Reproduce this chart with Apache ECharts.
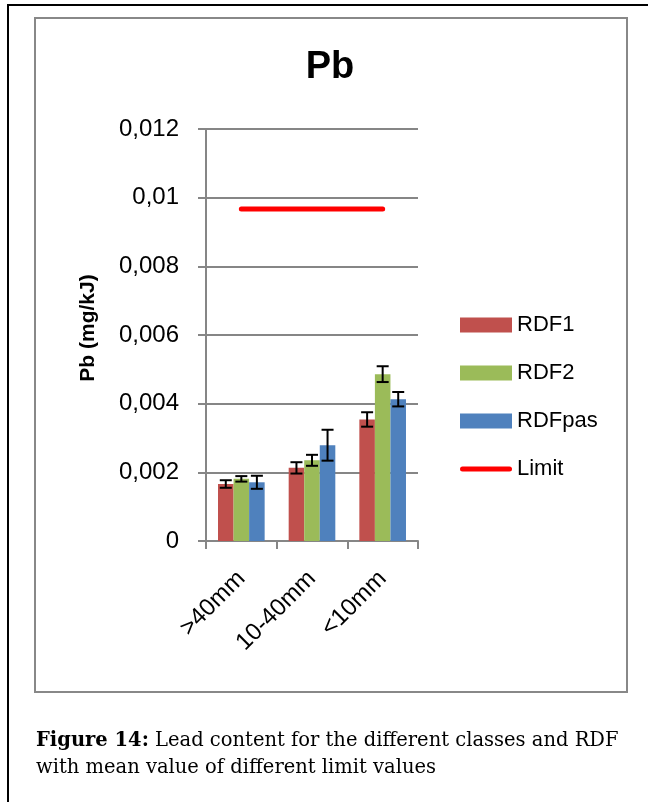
<!DOCTYPE html>
<html>
<head>
<meta charset="utf-8">
<script src="https://cdn.jsdelivr.net/npm/echarts@6/dist/echarts.min.js"></script>
<style>
html,body{margin:0;padding:0;background:#fff;}
#c{width:648px;height:802px;}
</style>
</head>
<body>
<div id="c"></div>
<script>
var categories = ['>40mm', '10-40mm', '<10mm'];
var rdf1 = [0.00166, 0.00213, 0.00354];
var rdf2 = [0.00181, 0.00235, 0.00486];
var rdfpas = [0.00171, 0.00279, 0.00413];
var err1 = [0.00011, 0.000165, 0.00021];
var err2 = [0.00008, 0.00016, 0.00023];
var errpas = [0.00019, 0.00045, 0.00021];
var limit = [0.00967, 0.00967, 0.00967];
var seriesNames = ['RDF1', 'RDF2', 'RDFpas', 'Limit'];

var colors = ['#C0504D', '#9BBB59', '#4F81BD', '#FF0000'];
var GAP = 0.34;
var FONT = '"Liberation Sans", Arial, sans-serif';

function errData(vals, errs) {
  return vals.map(function (v, i) { return [i, v - errs[i], v + errs[i]]; });
}

function makeErr(k, vals, errs) {
  return {
    type: 'custom',
    name: 'err' + k,
    z: 10,
    silent: true,
    data: errData(vals, errs),
    renderItem: function (params, api) {
      var band = api.size([1, 0])[0];
      var bw = band * (1 - GAP) / 3;
      var lo = api.coord([api.value(0), api.value(1)]);
      var hi = api.coord([api.value(0), api.value(2)]);
      var x = lo[0] + (k - 1) * bw;
      var cap = 6;
      var st = { stroke: '#000', lineWidth: 2 };
      return {
        type: 'group',
        children: [
          { type: 'line', shape: { x1: x, y1: lo[1], x2: x, y2: hi[1] }, style: st },
          { type: 'line', shape: { x1: x - cap, y1: lo[1], x2: x + cap, y2: lo[1] }, style: st },
          { type: 'line', shape: { x1: x - cap, y1: hi[1], x2: x + cap, y2: hi[1] }, style: st }
        ]
      };
    }
  };
}

function fmtY(v) {
  if (v === 0) return '0';
  return String(Number(v.toFixed(4))).replace('.', ',');
}

var chart = echarts.init(document.getElementById('c'), null, { renderer: 'canvas' });
var option = {
  animation: false,
  backgroundColor: '#fff',
  textStyle: { fontFamily: FONT },
  grid: { left: 206, right: 230, top: 129, bottom: 261, containLabel: false },
  legend: {
    orient: 'vertical',
    left: 460,
    top: 314,
    padding: 0,
    itemWidth: 52,
    itemHeight: 15,
    itemGap: 26,
    data: [
      { name: 'RDF1', icon: 'rect' },
      { name: 'RDF2', icon: 'rect' },
      { name: 'RDFpas', icon: 'rect' },
      { name: 'Limit', icon: 'path://M2.5,0 L49.5,0 A2.5,2.5 0 0 1 49.5,5 L2.5,5 A2.5,2.5 0 0 1 2.5,0 Z' }
    ],
    textStyle: { fontSize: 22, color: '#000', fontFamily: FONT, lineHeight: 22, padding: [0, 0, 0, 0] },
    selectedMode: false
  },
  xAxis: {
    type: 'category',
    data: categories,
    axisLine: { lineStyle: { color: '#868686', width: 2 } },
    axisTick: { show: true, length: 8, lineStyle: { color: '#868686', width: 2 } },
    axisLabel: { rotate: 45, interval: 0, margin: 34, fontSize: 24, color: '#000', fontFamily: FONT }
  },
  yAxis: {
    type: 'value',
    min: 0,
    max: 0.012,
    interval: 0.002,
    axisLine: { show: true, lineStyle: { color: '#868686', width: 2 } },
    axisTick: { show: true, length: 8, lineStyle: { color: '#868686', width: 2 } },
    splitLine: { show: true, lineStyle: { color: '#868686', width: 2 } },
    axisLabel: { margin: 27, fontSize: 24, color: '#000', fontFamily: FONT, formatter: fmtY }
  },
  series: [
    { type: 'bar', name: seriesNames[0], data: rdf1, barGap: '0%', barCategoryGap: (GAP * 100) + '%', itemStyle: { color: colors[0] } },
    { type: 'bar', name: seriesNames[1], data: rdf2, barGap: '0%', barCategoryGap: (GAP * 100) + '%', itemStyle: { color: colors[1] } },
    { type: 'bar', name: seriesNames[2], data: rdfpas, barGap: '0%', barCategoryGap: (GAP * 100) + '%', itemStyle: { color: colors[2] } },
    { type: 'line', name: seriesNames[3], data: limit, symbol: 'none', z: 5,
      itemStyle: { color: colors[3] },
      lineStyle: { color: colors[3], width: 5, cap: 'round' } },
    makeErr(0, rdf1, err1),
    makeErr(1, rdf2, err2),
    makeErr(2, rdfpas, errpas)
  ],
  graphic: [
    { type: 'rect', silent: true, shape: { x: 8, y: 5, width: 700, height: 900 }, style: { fill: 'none', stroke: '#000', lineWidth: 2 } },
    { type: 'rect', silent: true, shape: { x: 35, y: 18, width: 592, height: 674 }, style: { fill: 'none', stroke: '#888', lineWidth: 2 } },
    { type: 'text', silent: true, x: 330, y: 68, style: { text: 'Pb', font: 'bold 38px ' + FONT, fill: '#000', textAlign: 'center', textVerticalAlign: 'middle' } },
    { type: 'text', silent: true, x: 88, y: 328, rotation: Math.PI / 2, style: { text: 'Pb (mg/kJ)', font: 'bold 21px ' + FONT, fill: '#000', textAlign: 'center', textVerticalAlign: 'middle' } },
    { type: 'text', silent: true, x: 36, y: 727, style: {
        text: '{b|Figure 14:} Lead content for the different classes and RDF\nwith mean value of different limit values',
        font: '19.5px "DejaVu Serif", serif', fill: '#000', textVerticalAlign: 'top', lineHeight: 27,
        rich: { b: { font: 'bold 19.5px "DejaVu Serif", serif', fill: '#000' } } } }
  ]
};
chart.setOption(option);
</script>
</body>
</html>
